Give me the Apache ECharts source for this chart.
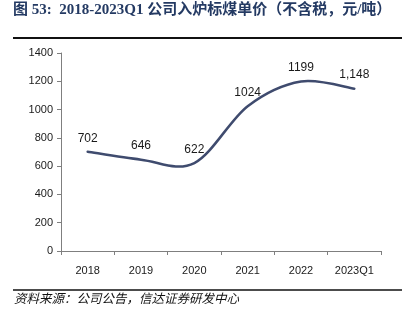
<!DOCTYPE html>
<html>
<head>
<meta charset="utf-8">
<script src="https://cdn.jsdelivr.net/npm/echarts@6/dist/echarts.min.js"></script>
<style>
html,body{margin:0;padding:0;background:#fff;}
#c{width:402px;height:325px;}
</style>
</head>
<body>
<div id="c"></div>
<script>
const categories = ['2018', '2019', '2020', '2021', '2022', '2023Q1'];
const priceValues = [702, 646, 622, 1024, 1199, 1148];
const priceLabels = ['702', '646', '622', '1024', '1199', '1,148'];
const yTicks = [0, 200, 400, 600, 800, 1000, 1200, 1400];

const LINE_COLOR = '#3f4b6e';

function smoothPath(api) {
  const pts = priceValues.map((v, i) => api.coord([i, v]));
  const n = pts.length;
  let d = 'M' + pts[0][0] + ' ' + pts[0][1];
  for (let i = 0; i < n - 1; i++) {
    const p0 = pts[Math.max(i - 1, 0)];
    const p1 = pts[i];
    const p2 = pts[i + 1];
    const p3 = pts[Math.min(i + 2, n - 1)];
    const t = 1 / 6;
    const c1 = [p1[0] + (p2[0] - p0[0]) * t, p1[1] + (p2[1] - p0[1]) * t];
    const c2 = [p2[0] - (p3[0] - p1[0]) * t, p2[1] - (p3[1] - p1[1]) * t];
    d += ' C' + c1[0] + ' ' + c1[1] + ' ' + c2[0] + ' ' + c2[1] + ' ' + p2[0] + ' ' + p2[1];
  }
  return d;
}

const chart = echarts.init(document.getElementById('c'), null, {renderer: 'canvas'});
chart.setOption({
  animation: false,
  backgroundColor: '#fff',
  grid: {left: 61, right: 21, top: 53, bottom: 74, containLabel: false},
  xAxis: {
    type: 'category',
    data: categories,
    boundaryGap: true,
    axisLine: {lineStyle: {color: '#7f7f7f', width: 1}},
    axisTick: {show: true, alignWithLabel: false, length: 4, lineStyle: {color: '#7f7f7f'}},
    axisLabel: {color: '#1a1a1a', fontFamily: 'Liberation Sans', fontSize: 11, margin: 14}
  },
  yAxis: {
    type: 'value',
    min: yTicks[0],
    max: yTicks[yTicks.length - 1],
    interval: 200,
    axisLine: {show: true, lineStyle: {color: '#7f7f7f', width: 1}},
    axisTick: {show: true, length: 4, lineStyle: {color: '#7f7f7f'}},
    splitLine: {show: false},
    axisLabel: {color: '#1a1a1a', fontFamily: 'Liberation Sans', fontSize: 11, margin: 8,
      formatter: v => String(v)}
  },
  series: [{
    type: 'custom',
    data: priceValues.map((v, i) => [i, v]),
    renderItem: (params, api) => {
      if (params.dataIndex !== 0) return null;
      return {
        type: 'path',
        shape: {pathData: smoothPath(api)},
        style: {fill: 'none', stroke: LINE_COLOR, lineWidth: 2.5, lineCap: 'round'}
      };
    },
    z: 3
  }, {
    type: 'line',
    data: priceValues,
    symbol: 'circle',
    symbolSize: 1,
    showSymbol: true,
    itemStyle: {color: 'rgba(0,0,0,0)'},
    lineStyle: {opacity: 0},
    label: {
      show: true,
      position: 'top',
      distance: 7,
      color: '#1a1a1a',
      fontFamily: 'Liberation Sans',
      fontSize: 12,
      formatter: p => priceLabels[p.dataIndex]
    },
    z: 4
  }],
  graphic: [
    {type: 'text', left: 13, top: 3, style: {
      text: '图 53:  2018-2023Q1 公司入炉标煤单价（不含税，元/吨）',
      font: 'bold 15px "Liberation Serif", "Noto Sans CJK SC"',
      fill: '#243a63'
    }},
    {type: 'line', shape: {x1: 13, y1: 38, x2: 402, y2: 38}, style: {stroke: '#111', lineWidth: 2}},
    {type: 'line', shape: {x1: 13, y1: 290, x2: 402, y2: 290}, style: {stroke: '#111', lineWidth: 1.5}},
    {type: 'text', left: 14, top: 292, style: {
      text: '资料来源：公司公告，信达证券研发中心',
      font: 'italic 12.5px "Noto Sans CJK SC"',
      fill: '#111'
    }}
  ]
});
</script>
</body>
</html>
